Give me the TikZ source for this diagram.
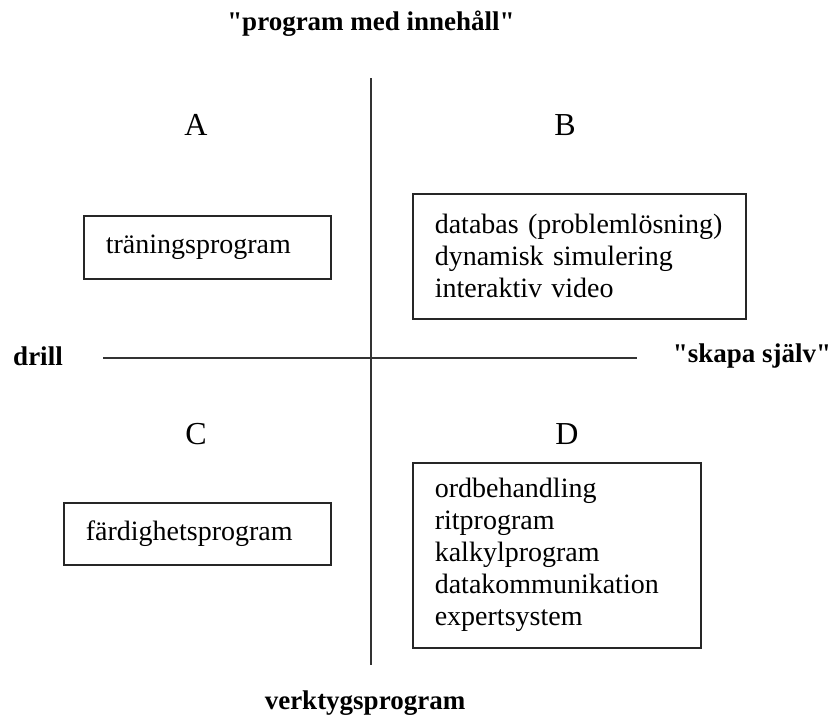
\documentclass[tikz,border=0pt]{standalone}
\usepackage{fontspec}
\setmainfont{Liberation Serif}
\usetikzlibrary{positioning}

\tikzset{
  rubrik/.style={font=\fontsize{27}{30}\selectfont\bfseries},
  bokstav/.style={font=\fontsize{32}{36}\selectfont},
  ruta/.style={draw=black!85,line width=1.6pt,anchor=north west,inner xsep=22pt,
    inner ysep=0pt,align=left,font=\fontsize{28}{32}\selectfont},
  axel/.style={draw=black!80,line width=1.8pt}
}

\begin{document}
\begin{tikzpicture}[x=1pt,y=-1pt]
\useasboundingbox (0,0) rectangle (836,720);
% axlarna
\coordinate (N) at (371,78);
\coordinate (S) at (371,665);
\coordinate (V) at (103,358);
\coordinate (O) at (637,358);
\draw[axel] (N)--(S);
\draw[axel] (V)--(O);
% rubriker
\node[rubrik] (T) at (371,24) {\textquotedbl program med innehåll\textquotedbl};
\node[rubrik] (Dr) at (38,356) {drill};
\node[rubrik] (Sk) at (752,356) {\textquotedbl skapa själv\textquotedbl};
\node[rubrik] (Ve) at (365,703) {verktygsprogram};
% kvadranter
\node[bokstav] (A) at (196,125) {A};
\node[bokstav] (B) at (565,125) {B};
\node[bokstav] (C) at (196,434) {C};
\node[bokstav] (D) at (567,434) {D};
% rutor
\node[ruta,minimum width=247pt,minimum height=63pt,text width=203pt] (RA) at (83,215) {träningsprogram};
\node[ruta,minimum width=333pt,minimum height=125pt,text width=289pt] (RB) at (412,193)
  {databas (problemlösning)\\dynamisk simulering\\interaktiv video};
\node[ruta,minimum width=267pt,minimum height=62pt,text width=223pt] (RC) at (63,502) {färdighetsprogram};
\node[ruta,minimum width=288pt,minimum height=185pt,text width=244pt] (RD) at (412,462)
  {ordbehandling\\ritprogram\\kalkylprogram\\datakommunikation\\expertsystem};
\end{tikzpicture}
\end{document}
